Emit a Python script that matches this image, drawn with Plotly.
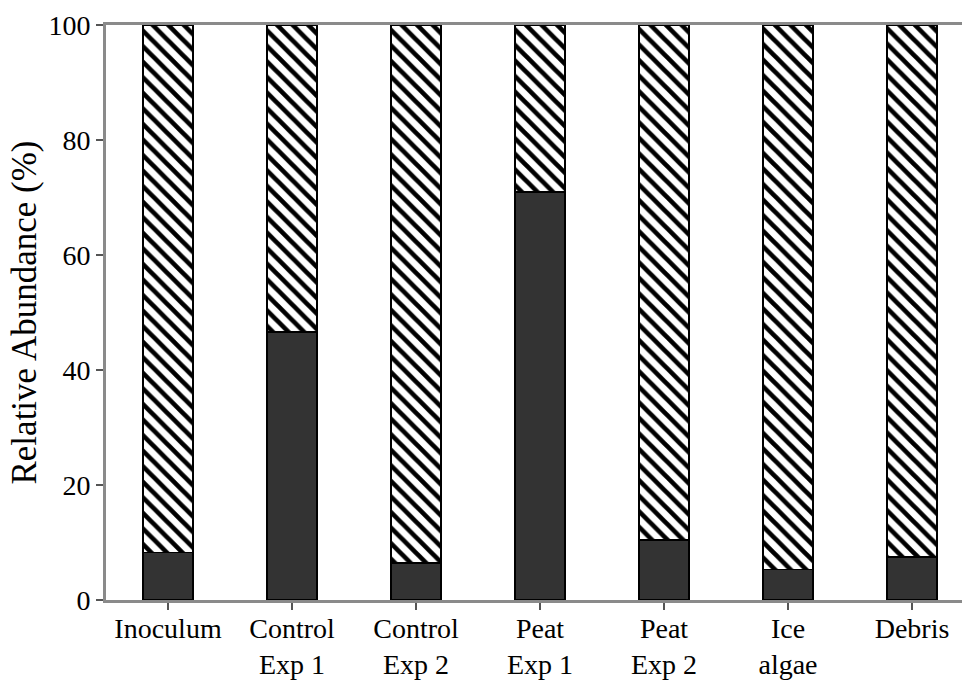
import plotly.graph_objects as go

categories = ["Inoculum", "Control<br>Exp 1", "Control<br>Exp 2", "Peat<br>Exp 1",
              "Peat<br>Exp 2", "Ice<br>algae", "Debris"]
dark_values = [8.3, 46.6, 6.4, 71.0, 10.4, 5.3, 7.5]
hatched_values = [91.7, 53.4, 93.6, 29.0, 89.6, 94.7, 92.5]
y_ticks = [0, 20, 40, 60, 80, 100]

x = list(range(len(categories)))

fig = go.Figure()
fig.add_trace(go.Bar(
    x=x, y=dark_values, width=0.403,
    marker=dict(color="#333333", line=dict(color="black", width=1.5)),
))
fig.add_trace(go.Bar(
    x=x, y=hatched_values, width=0.403,
    marker=dict(color="white", line=dict(color="black", width=1.5),
                pattern=dict(shape="\\", fgcolor="black", bgcolor="white",
                             fgopacity=1, size=11, solidity=0.42, fillmode="replace")),
))

font = "Liberation Serif"
fig.update_layout(
    barmode="stack",
    showlegend=False,
    width=962, height=681,
    margin=dict(l=106, r=0, t=25, b=81),
    paper_bgcolor="white", plot_bgcolor="white",
    font=dict(family=font, color="black", size=28),
    xaxis=dict(
        tickmode="array", tickvals=x, ticktext=categories,
        range=[-0.5, 6.403], tickson="boundaries", automargin=False,
        showline=True, linecolor="#8a8a8a", linewidth=3, mirror=True,
        ticks="outside", ticklen=7, tickcolor="#555555", tickwidth=1.5,
        ticklabelstandoff=-6,
        showgrid=False, zeroline=False,
        tickfont=dict(family=font, size=28, color="black"),
    ),
    yaxis=dict(
        range=[0, 100], tickvals=y_ticks, automargin=False,
        showline=True, linecolor="#8a8a8a", linewidth=3,
        ticks="outside", ticklen=7, tickcolor="#555555", tickwidth=1.5,
        showgrid=False, zeroline=False,
        tickfont=dict(family=font, size=28, color="black"),
        title=dict(text="Relative Abundance (%)", font=dict(family=font, size=35, color="black"),
                   standoff=2),
    ),
)

fig.write_html("out.html")
